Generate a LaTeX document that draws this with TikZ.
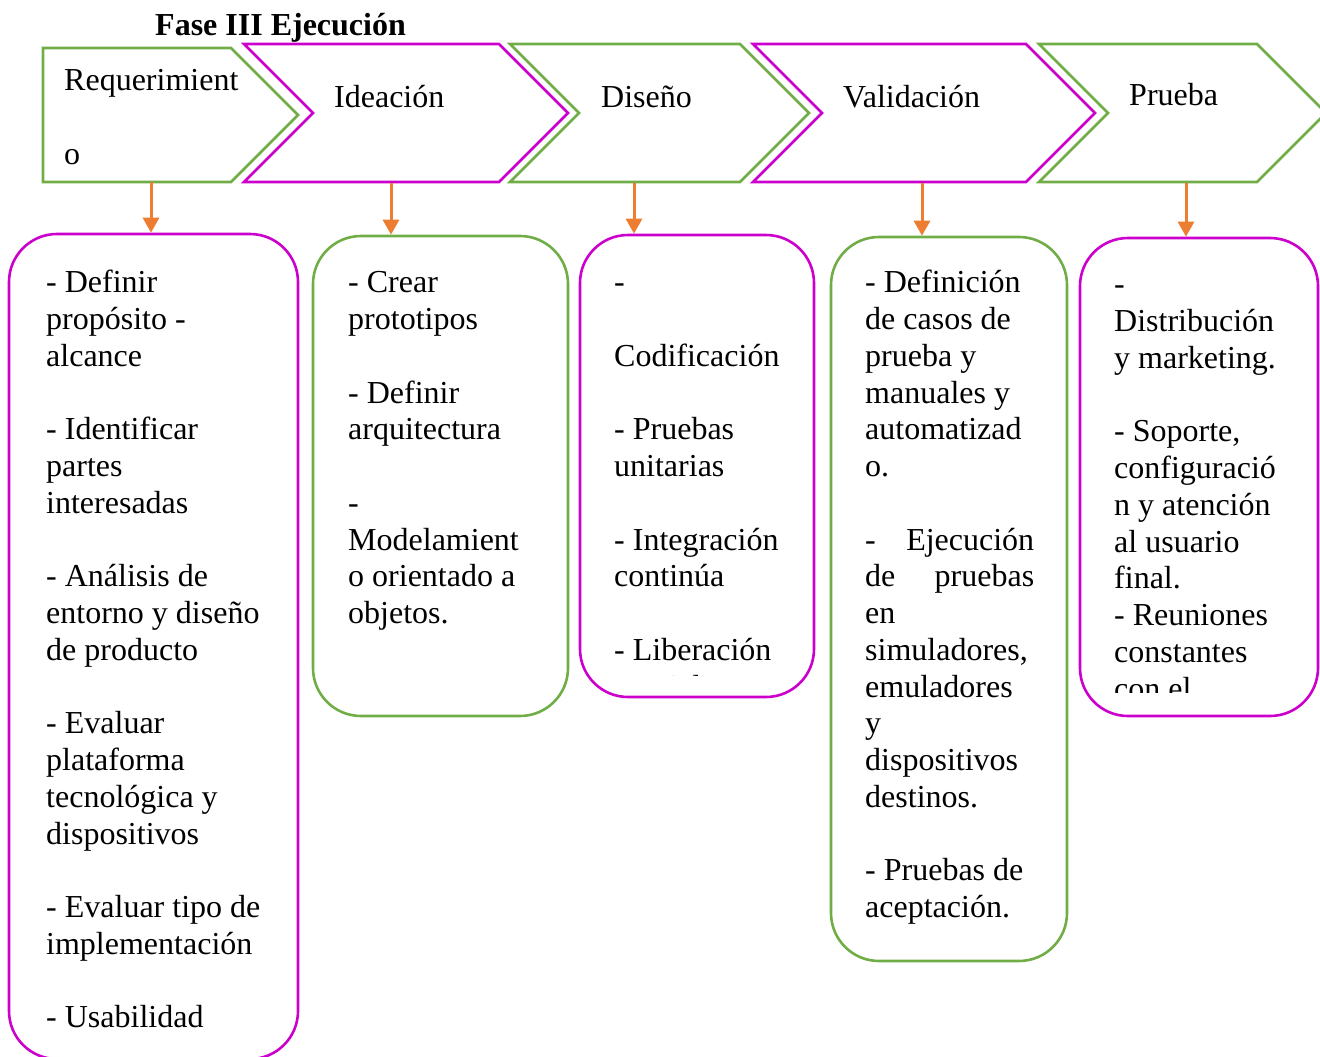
\documentclass[tikz,border=0pt]{standalone}
\usepackage{fontspec}
\setmainfont{Liberation Serif}
\usetikzlibrary{arrows.meta, positioning, shapes.symbols}
\definecolor{fgreen}{RGB}{112,173,71}
\definecolor{fmag}{RGB}{204,0,204}
\definecolor{forange}{RGB}{237,125,49}
\newcommand{\bodyfont}{\fontsize{32}{36.75}\selectfont}
\newcommand{\lskip}{36.75pt}

\begin{document}
\begin{tikzpicture}[
		x=1pt, y=-1pt,
		chev/.style={draw, line width=2.6pt},
		sig/.style={chev, shape=signal, signal from=west, signal to=east, signal pointer angle=90, inner sep=0pt, minimum height=138},
		bx/.style={draw, line width=2.6pt, rounded corners=48pt, inner sep=0pt},
		txt/.style={anchor=north west, align=flush left, text width=330pt, inner sep=0pt, font=\bodyfont, execute at begin node=\strut},
		lbl/.style={anchor=base west, inner sep=0pt, font=\bodyfont},
		arr/.style={-{Triangle[length=15pt, width=16pt]}, line width=3pt, draw=forange}
		]
		\useasboundingbox (0,0) rectangle (1320,1057);
		\node[lbl, font=\bodyfont\bfseries] (title) at (155,36) {Fase III Ejecución};
		
		% fases
		\draw[chev, draw=fgreen] (43,48) -- (231,48) -- (298,115) -- (231,182) coordinate (req) -- (43,182) -- cycle;
		\node[sig, draw=fmag, minimum width=324] (idea) at (406,113) {};
		\node[sig, draw=fgreen, minimum width=299] (dis) at (659.5,113) {};
		\node[sig, draw=fmag, minimum width=342] (val) at (924,113) {};
		\node[sig, draw=fgreen, minimum width=287] (pru) at (1182.5,113) {};
		
		\node[txt] (reqlbl) at (64,65) {Requerimient\\[\lskip]o};
		\node[lbl] (idealbl) at (334,107) {Ideación};
		\node[lbl] (dislbl) at (601,107) {Diseño};
		\node[lbl] (vallbl) at (843,107) {Validación};
		\node[lbl] (prulbl) at (1129,106) {Prueba};
		
		% actividades
		\node[bx, draw=fmag, minimum width=289, minimum height=825] (reqbox) at (153.5,646.5) {};
		\node[bx, draw=fgreen, minimum width=255, minimum height=480] (ideabox) at (440.5,476) {};
		\node[bx, draw=fmag, minimum width=234, minimum height=462] (disbox) at (697,466) {};
		\node[bx, draw=fgreen, minimum width=236, minimum height=724] (valbox) at (949,599) {};
		\node[bx, draw=fmag, minimum width=238, minimum height=478] (prubox) at (1199,477) {};
		
		\node[txt] (reqtxt) at (46,267) {- Definir\\ propósito -\\ alcance\\[\lskip]
			- Identificar\\ partes\\ interesadas\\[\lskip]
			- Análisis de\\ entorno y diseño\\ de producto\\[\lskip]
			- Evaluar\\ plataforma\\ tecnológica y\\ dispositivos\\[\lskip]
			- Evaluar tipo de\\ implementación\\[\lskip]
			- Usabilidad};
		\node[txt] (ideatxt) at (348,267) {- Crear\\ prototipos\\[\lskip]
			- Definir\\ arquitectura\\[\lskip]
			-\\ Modelamient\\ o orientado a\\ objetos.};
		\begin{scope}
			\clip (580,235) rectangle (814,675);
			\node[txt] (distxt) at (614,267) {-\\[\lskip] Codificación\\[\lskip]
				- Pruebas\\ unitarias\\[\lskip]
				- Integración\\ continúa\\[\lskip]
				- Liberación\\ parcial};
		\end{scope}
		\node[txt] (valtxt) at (865,267) {- Definición\\ de casos de\\ prueba y\\ manuales y\\ automatizad\\ o.\\[\lskip]
			\makebox[169pt][l]{-\hfill Ejecución}\\ \makebox[169pt][l]{de\hfill pruebas}\\ en\\ simuladores,\\ emuladores\\ y\\ dispositivos\\ destinos.\\[\lskip]
			- Pruebas de\\ aceptación.};
		\begin{scope}
			\clip (1080,238) rectangle (1318,692);
			\node[txt] (prutxt) at (1114,269) {-\\ Distribución\\ y marketing.\\[\lskip]
				- Soporte,\\ configuració\\ n y atención\\ al usuario\\ final.\\
				- Reuniones\\ constantes\\ con el};
		\end{scope}
		
		\coordinate (a1) at (151,0);
		\coordinate (a2) at (391,0);
		\coordinate (a3) at (634,0);
		\coordinate (a4) at (922,0);
		\coordinate (a5) at (1186,0);
		\draw[arr] (a1 |- req) -- (a1 |- reqbox.north);
		\draw[arr] (a2 |- idea.south) -- (a2 |- ideabox.north);
		\draw[arr] (a3 |- dis.south) -- (a3 |- disbox.north);
		\draw[arr] (a4 |- val.south) -- (a4 |- valbox.north);
		\draw[arr] (a5 |- pru.south) -- (a5 |- prubox.north);
	\end{tikzpicture}
\end{document}
